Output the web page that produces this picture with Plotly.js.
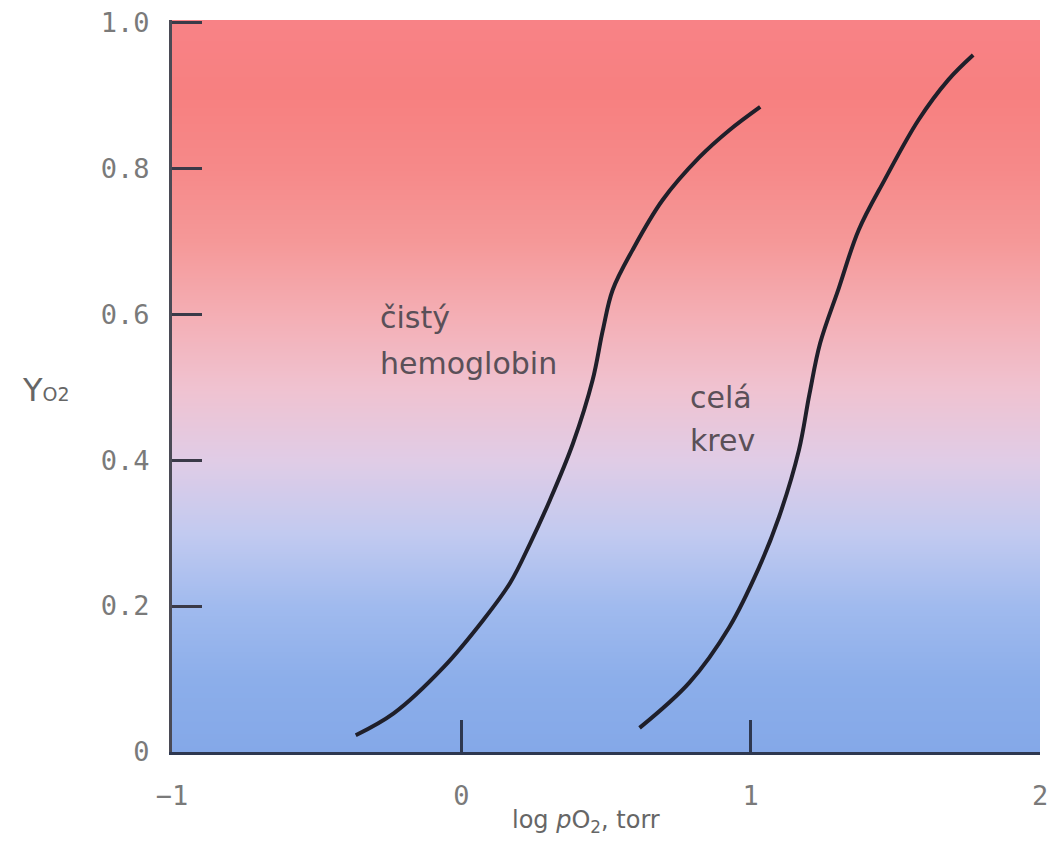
<!DOCTYPE html>
<html>
<head>
<meta charset="utf-8">
<script src="https://cdn.plot.ly/plotly-3.0.1.min.js"></script>
<style>html,body{margin:0;padding:0;background:#fff;}#chart{width:1052px;height:846px;}</style>
</head>
<body>
<div id="chart"></div>
<script>
// Curve: pure hemoglobin (log pO2, Y_O2)
const hbX = [-0.365, -0.234, -0.062, 0.076, 0.169, 0.238, 0.306, 0.386, 0.454, 0.489, 0.523, 0.592, 0.695, 0.823, 0.926, 1.033];
const hbY = [0.023, 0.053, 0.116, 0.181, 0.232, 0.286, 0.345, 0.423, 0.510, 0.578, 0.633, 0.688, 0.756, 0.815, 0.852, 0.884];
// Curve: whole blood
const bloodX = [0.616, 0.788, 0.926, 1.029, 1.098, 1.167, 1.203, 1.240, 1.305, 1.373, 1.463, 1.580, 1.683, 1.769];
const bloodY = [0.033, 0.095, 0.171, 0.253, 0.322, 0.414, 0.490, 0.560, 0.636, 0.715, 0.784, 0.866, 0.921, 0.955];
// Axis ticks
const xTickVals = [-1, 0, 1, 2];
const xTickText = ["\u22121", "0", "1", "2"];
const yTickVals = [0, 0.2, 0.4, 0.6, 0.8, 1.0];
const yTickText = ["0", "0.2", "0.4", "0.6", "0.8", "1.0"];
// Background gradient (level -> colour)
const bgLevels = [0.0, 0.1, 0.2, 0.3, 0.4, 0.5, 0.6, 0.7, 0.8, 0.9, 1.0];
const bgColors = ["rgb(132,168,232)", "rgb(140,174,234)", "rgb(160,186,238)", "rgb(194,202,240)",
  "rgb(224,204,230)", "rgb(240,194,208)", "rgb(244,174,180)", "rgb(245,152,152)",
  "rgb(246,137,137)", "rgb(247,128,128)", "rgb(248,130,134)"];

const bgTrace = {
  type: 'heatmap',
  x: [-1.1, 2.1],
  y: bgLevels,
  z: bgLevels.map(v => [v, v]),
  zmin: 0, zmax: 1,
  colorscale: bgLevels.map((v, i) => [v, bgColors[i]]),
  zsmooth: 'best',
  showscale: false,
  hoverinfo: 'skip'
};
const lineStyle = {color: '#1f1f2a', width: 4, shape: 'spline', smoothing: 1};
const hbTrace = {type: 'scatter', mode: 'lines', x: hbX, y: hbY, line: lineStyle, hoverinfo: 'skip'};
const bloodTrace = {type: 'scatter', mode: 'lines', x: bloodX, y: bloodY, line: lineStyle, hoverinfo: 'skip'};

const labelFont = {family: 'DejaVu Sans', size: 30, color: '#5a5058'};
const tickFont = {family: 'DejaVu Sans Mono', size: 27, color: '#7a7a7a'};

const layout = {
  width: 1052, height: 846,
  margin: {l: 172, r: 12, t: 20, b: 94},
  paper_bgcolor: '#ffffff',
  plot_bgcolor: '#ffffff',
  showlegend: false,
  hovermode: false,
  xaxis: {
    range: [-1, 2], tickvals: xTickVals, ticktext: xTickText,
    ticks: 'inside', ticklen: 32, tickwidth: 3, tickcolor: '#2e3850',
    showline: true, linecolor: '#2e3850', linewidth: 3,
    showgrid: false, zeroline: false, tickfont: tickFont, ticklabelstandoff: 18
  },
  yaxis: {
    range: [0, 1.003], tickvals: yTickVals, ticktext: yTickText,
    ticks: 'inside', ticklen: 30, tickwidth: 3, tickcolor: '#3a3a48',
    showline: true, linecolor: '#4a4a55', linewidth: 3,
    showgrid: false, zeroline: false, tickfont: tickFont, ticklabelstandoff: 14
  },
  annotations: [
    {text: 'čistý', x: -0.288, y: 0.595, xref: 'x', yref: 'y', xanchor: 'left', yanchor: 'middle', showarrow: false, font: labelFont},
    {text: 'hemoglobin', x: -0.288, y: 0.532, xref: 'x', yref: 'y', xanchor: 'left', yanchor: 'middle', showarrow: false, font: labelFont},
    {text: 'celá', x: 0.784, y: 0.486, xref: 'x', yref: 'y', xanchor: 'left', yanchor: 'middle', showarrow: false, font: labelFont},
    {text: 'krev', x: 0.784, y: 0.427, xref: 'x', yref: 'y', xanchor: 'left', yanchor: 'middle', showarrow: false, font: labelFont},
    {text: "Y<span style='font-size:19px'>O2</span>", x: -0.175, y: 0.496, xref: 'paper', yref: 'y', xanchor: 'left', yanchor: 'middle', showarrow: false,
     font: {family: 'DejaVu Sans', size: 32, color: '#666666'}},
    {text: 'log <i>p</i>O<sub>2</sub>, torr', x: 0.43, y: 0, xref: 'x', yref: 'paper', xanchor: 'center', yanchor: 'top', yshift: -52, showarrow: false,
     font: {family: 'DejaVu Sans', size: 24, color: '#666666'}}
  ]
};

Plotly.newPlot('chart', [bgTrace, hbTrace, bloodTrace], layout, {displayModeBar: false, staticPlot: true});
</script>
</body>
</html>
